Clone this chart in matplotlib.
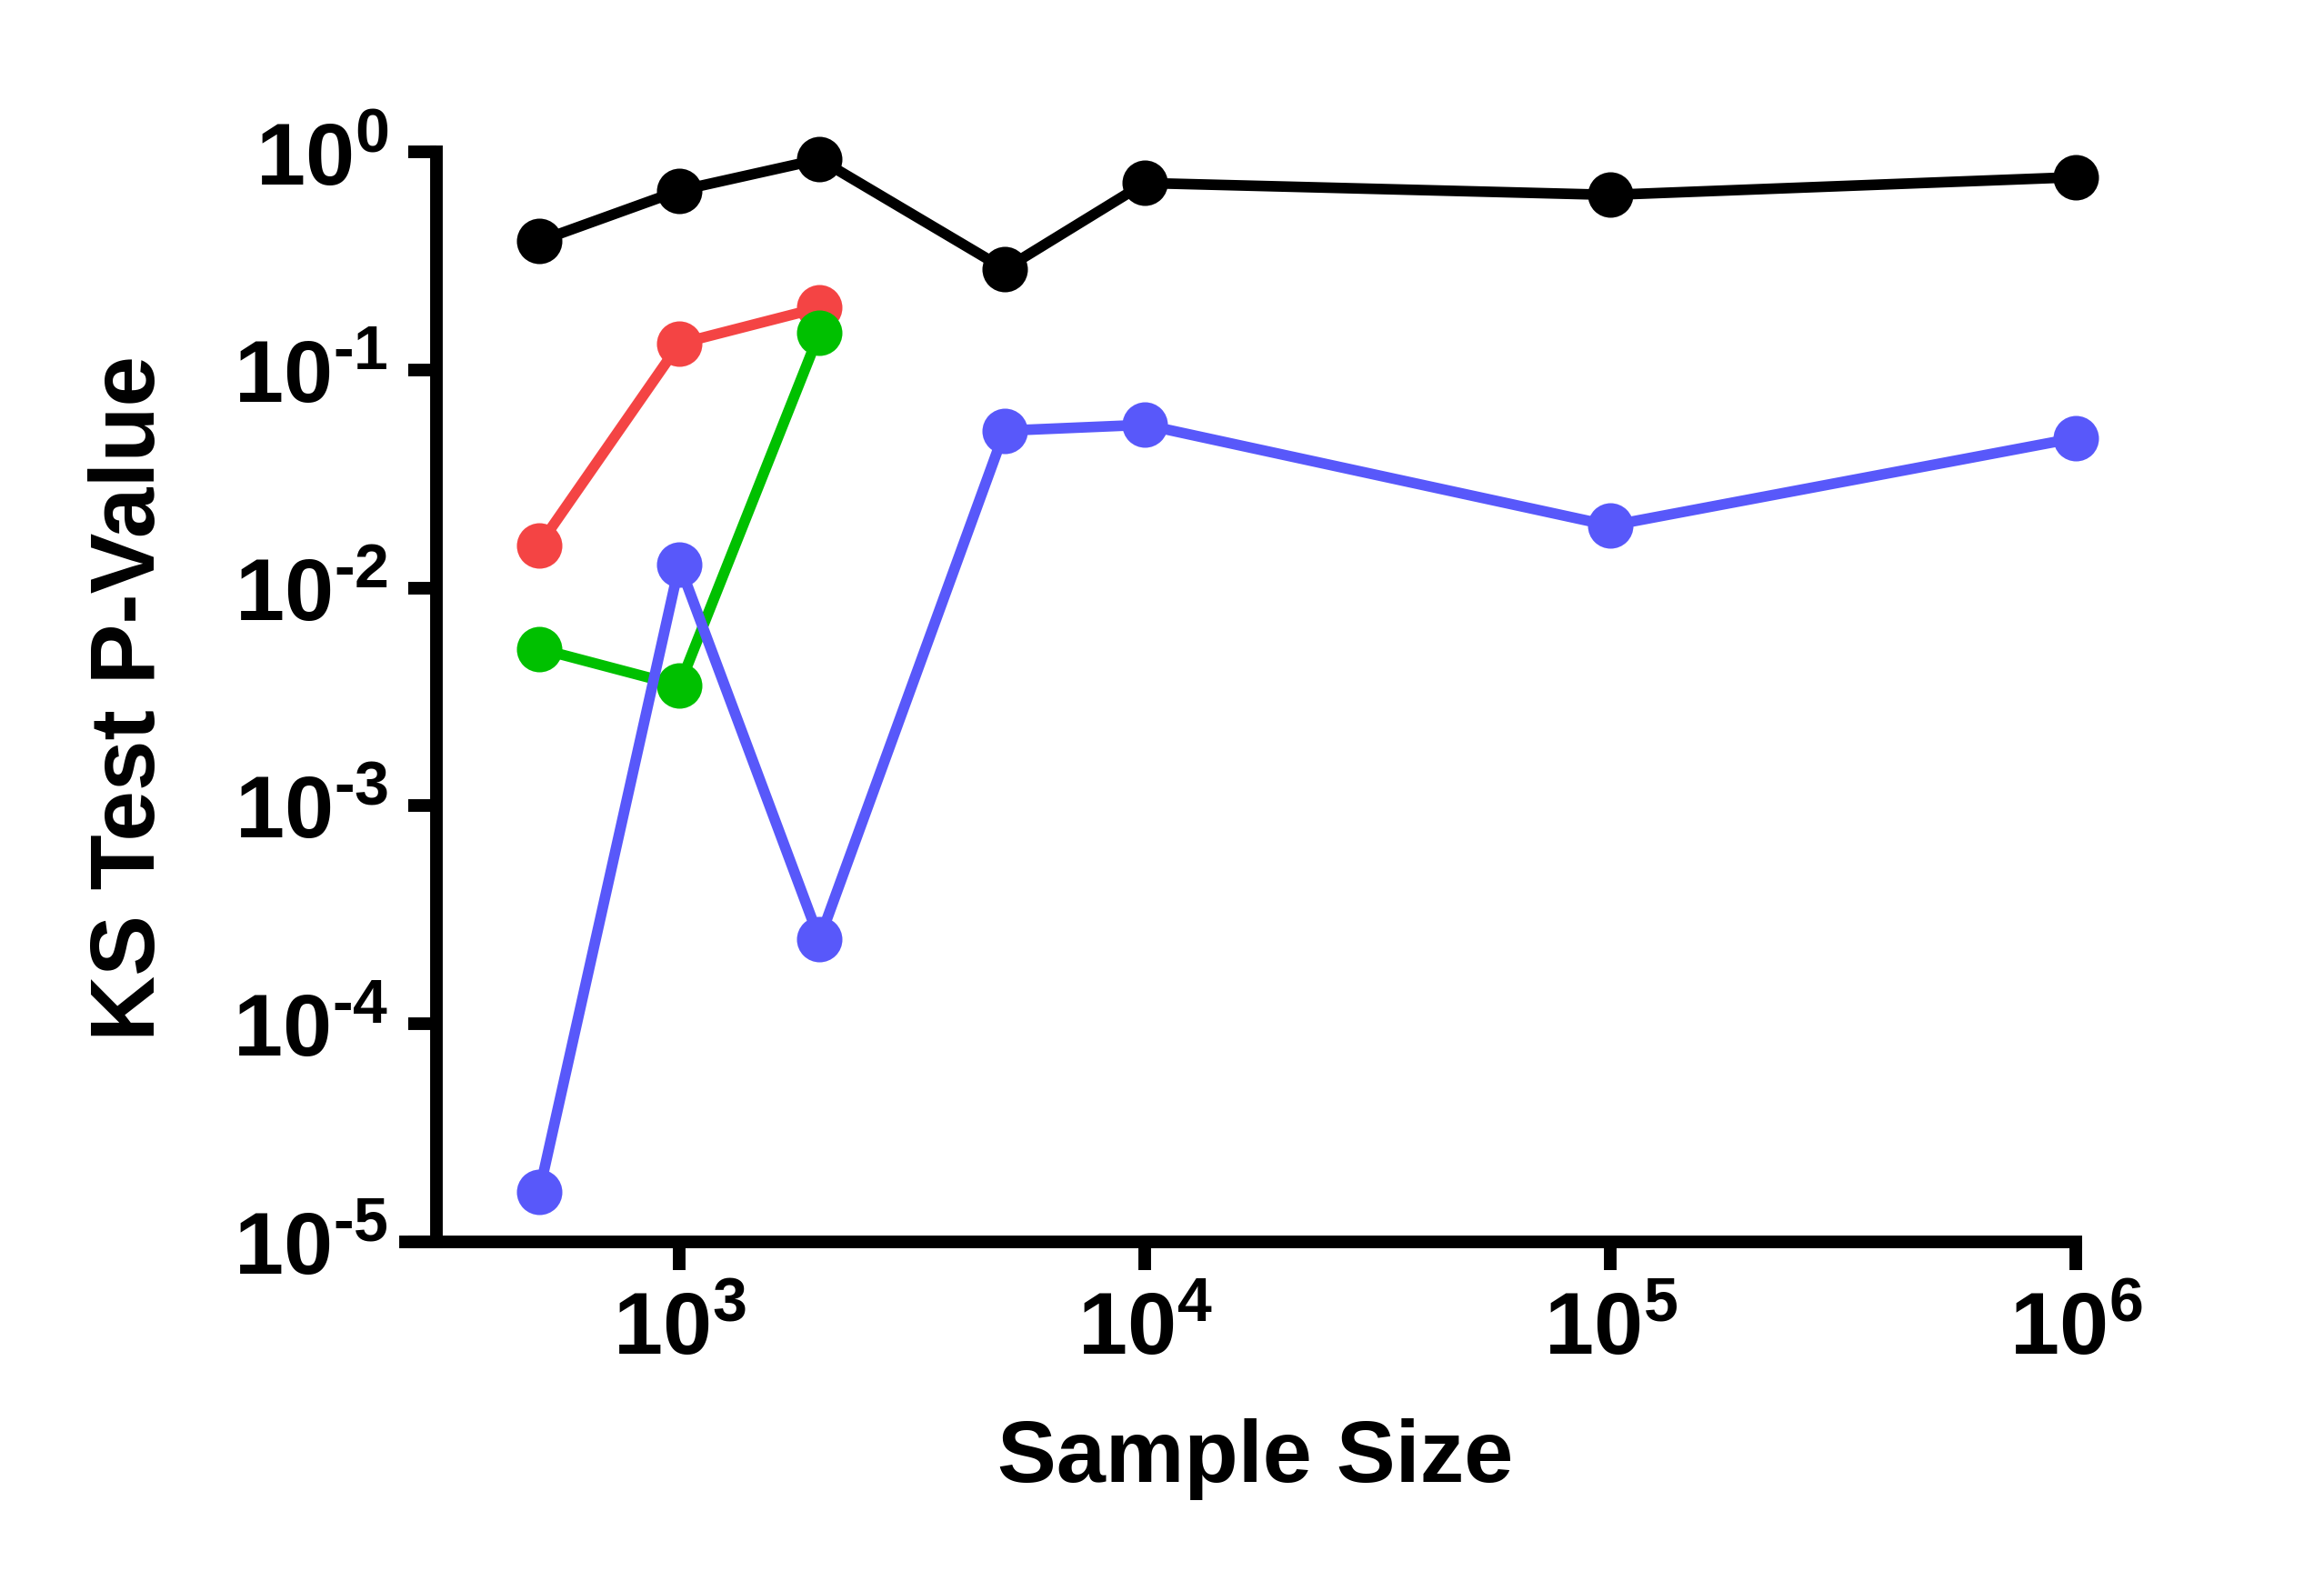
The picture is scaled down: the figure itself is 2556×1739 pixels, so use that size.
import matplotlib
matplotlib.use("Agg")
import matplotlib.pyplot as plt
import matplotlib.ticker as mticker
import numpy as np

plt.rcParams['font.family'] = ['Liberation Sans', 'DejaVu Sans']
plt.rcParams['font.weight'] = 'bold'
plt.rcParams['mathtext.fontset'] = 'custom'
plt.rcParams['mathtext.rm'] = 'Liberation Sans:bold'
plt.rcParams['mathtext.bf'] = 'Liberation Sans:bold'
plt.rcParams['mathtext.default'] = 'bf'

# Sample sizes and KS test p-values per series
sizes_short = [500, 1000, 2000]
sizes_full = [500, 1000, 2000, 5000, 10000, 100000, 1000000]

black_p = [0.39, 0.665, 0.925, 0.29, 0.72, 0.635, 0.766]
red_p = [0.0157, 0.132, 0.193]
green_p = [0.00526, 0.00356, 0.148]
blue_p = [1.70e-5, 0.0128, 2.44e-4, 0.0526, 0.056, 0.0193, 0.0487]

fig = plt.figure(figsize=(12.78, 8.70), dpi=200)
ax = fig.add_axes([0.1745, 0.2144, 0.8932 - 0.1745, 0.9034 - 0.2144])

lw = 4.2
ms = 17
ax.plot(sizes_full, black_p, '-o', color='black', lw=lw, ms=ms, clip_on=False)
ax.plot(sizes_short, red_p, '-o', color='#F44444', lw=lw, ms=ms, clip_on=False)
ax.plot(sizes_short, green_p, '-o', color='#00C000', lw=lw, ms=ms, clip_on=False)
ax.plot(sizes_full, blue_p, '-o', color='#5858FA', lw=lw, ms=ms, clip_on=False)

ax.set_xscale('log')
ax.set_yscale('log')
ax.set_xlim(258, 1e6)
ax.set_ylim(1e-5, 1e0)

ax.spines['top'].set_visible(False)
ax.spines['right'].set_visible(False)
ax.spines['left'].set_position(('data', 300))
ax.spines['bottom'].set_bounds(258, 1e6)
for s in ('left', 'bottom'):
    ax.spines[s].set_linewidth(5)
    ax.spines[s].set_capstyle('projecting')

ax.xaxis.set_major_locator(mticker.FixedLocator([1e3, 1e4, 1e5, 1e6]))
ax.yaxis.set_major_locator(mticker.FixedLocator([1e-5, 1e-4, 1e-3, 1e-2, 1e-1, 1e0]))
ax.xaxis.set_minor_locator(mticker.NullLocator())
ax.yaxis.set_minor_locator(mticker.NullLocator())


def fmt(v, pos):
    e = int(round(np.log10(v)))
    if e < 0:
        return r'$\mathbf{10^{\text{-}%d}}$' % (-e)
    return r'$\mathbf{10^{%d}}$' % e


ax.xaxis.set_major_formatter(mticker.FuncFormatter(fmt))
ax.yaxis.set_major_formatter(mticker.FuncFormatter(fmt))
ax.tick_params(axis='both', which='major', length=11, width=5, labelsize=35, pad=8)

ax.set_xlabel('Sample Size', fontsize=35, fontweight='bold')
ax.set_ylabel('KS Test P-Value', fontsize=36, fontweight='bold')
ax.xaxis.set_label_coords(0.509, -0.161)
ax.yaxis.set_label_coords(-0.139, 0.5)

fig.savefig('out.png', dpi=200)
